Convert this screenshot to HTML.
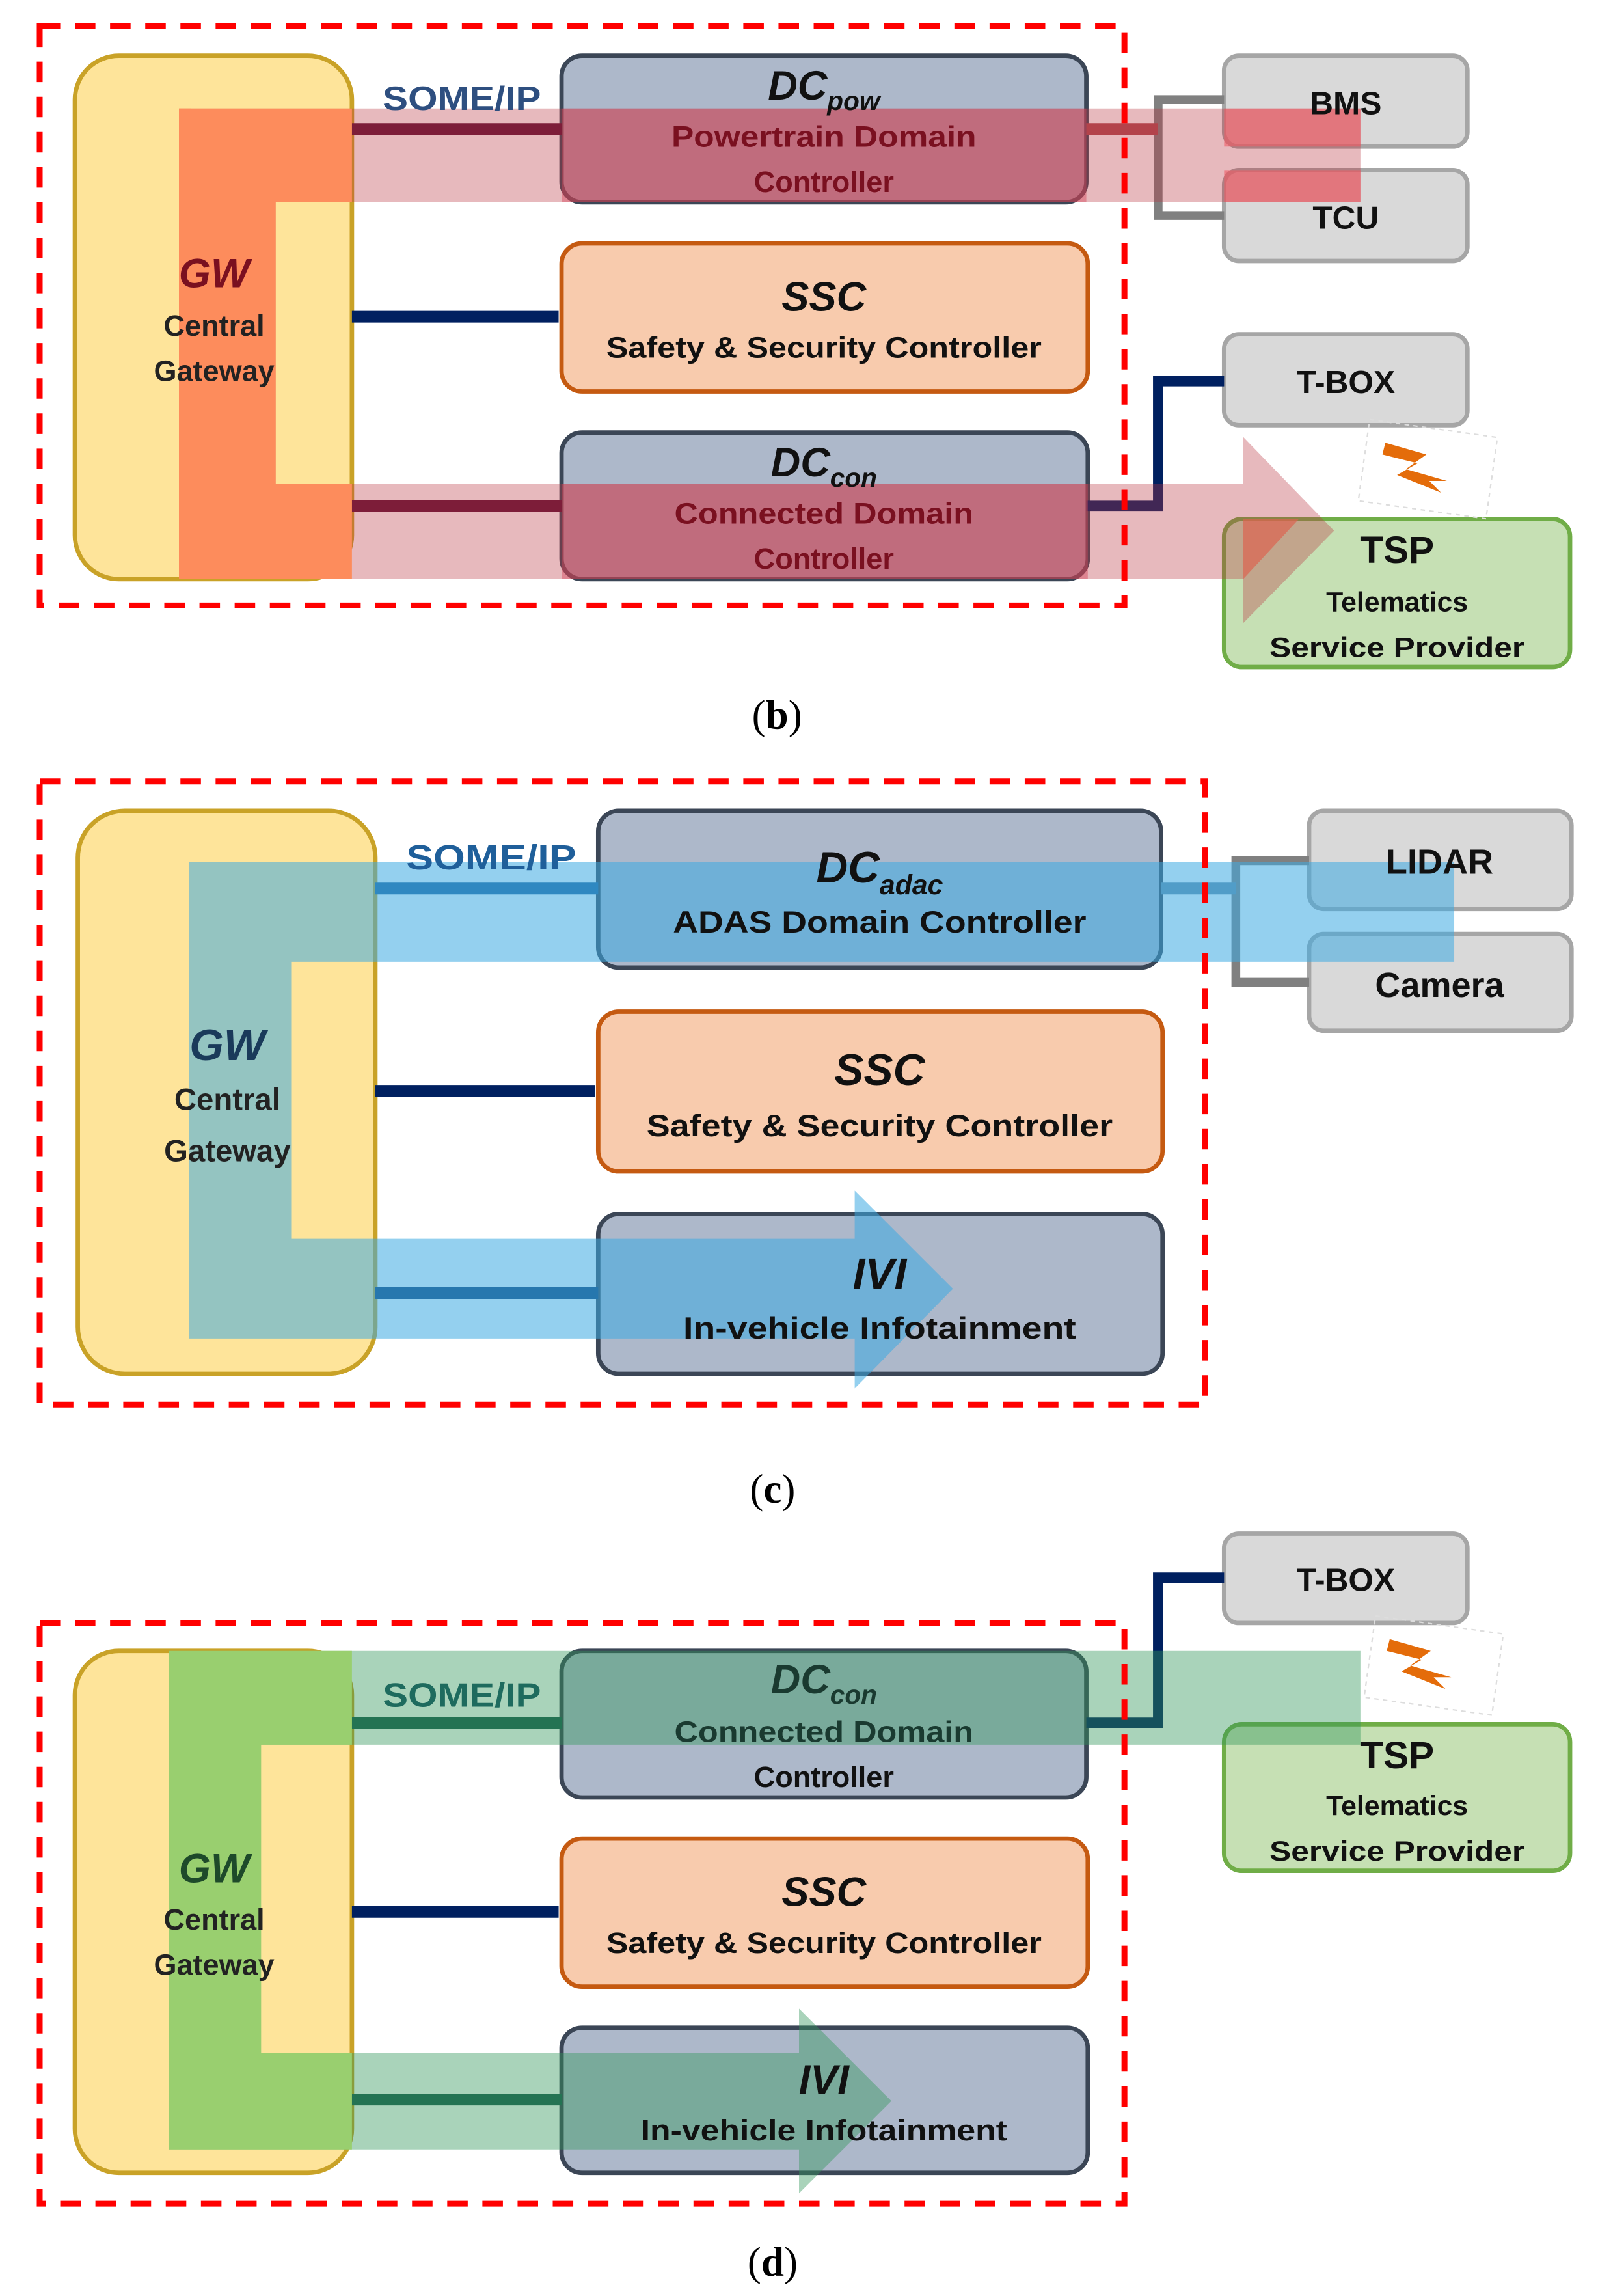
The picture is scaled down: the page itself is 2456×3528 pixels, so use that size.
<!DOCTYPE html>
<html><head><meta charset="utf-8"><style>
html,body{margin:0;padding:0;background:#fff}
svg{display:block}
text{font-family:"Liberation Sans",sans-serif;font-weight:bold;text-anchor:middle}
</style></head><body>
<svg width="2456" height="3528" viewBox="0 0 1090 1566" xmlns="http://www.w3.org/2000/svg">
<defs>
<g id="bolt"><path d="M0,0 L28,8 L14,18 L42,26 L30,26 L38,34 L8,22 L22,14 L-2,8 Z" fill="#e46c0a"/></g>
</defs>

<!-- ================= PANEL B ================= -->
<rect x="51" y="38" width="189" height="357" rx="30" fill="#fee49a" stroke="#c9a227" stroke-width="3"/>
<rect x="383" y="38" width="358" height="100" rx="14" fill="#adb8ca" stroke="#3b4656" stroke-width="3"/>
<rect x="383" y="166" width="359" height="101" rx="14" fill="#f8cbad" stroke="#c55a11" stroke-width="3"/>
<rect x="383" y="295" width="359" height="100" rx="14" fill="#adb8ca" stroke="#3b4656" stroke-width="3"/>
<rect x="835" y="38" width="166" height="62" rx="10" fill="#d9d9d9" stroke="#a6a6a6" stroke-width="3"/>
<rect x="835" y="116" width="166" height="62" rx="10" fill="#d9d9d9" stroke="#a6a6a6" stroke-width="3"/>
<rect x="835" y="228" width="166" height="62" rx="10" fill="#d9d9d9" stroke="#a6a6a6" stroke-width="3"/>
<rect x="835" y="354" width="236" height="101" rx="12" fill="#c6e0b4" stroke="#70ad47" stroke-width="3"/>
<!-- connectors -->
<line x1="240" y1="88" x2="383" y2="88" stroke="#5c1035" stroke-width="8"/>
<line x1="240" y1="216" x2="381" y2="216" stroke="#002060" stroke-width="8"/>
<line x1="240" y1="345" x2="383" y2="345" stroke="#5c1035" stroke-width="8"/>
<polyline points="835,68 790,68 790,147 835,147" fill="none" stroke="#808080" stroke-width="6"/>
<line x1="741" y1="88" x2="790" y2="88" stroke="#b04a50" stroke-width="8"/>
<polyline points="741,345 790,345 790,260 835,260" fill="none" stroke="#002060" stroke-width="7"/>
<!-- translucent flow -->
<path d="M122,74 H928 V138 H188 V330 H848 V298 L910,362 L848,425 V395 H122 Z" fill="rgba(185,55,65,0.35)"/>
<path d="M122,74 H240 V138 H188 V330 H240 V395 H122 Z" fill="#fd8c5c"/>
<path d="M122,74 H130 V395 H122 Z" fill="#fd8c5c"/>
<rect x="383" y="74" width="358" height="64" fill="rgba(210,70,90,0.45)"/>
<rect x="383" y="330" width="359" height="65" fill="rgba(210,70,90,0.45)"/>
<rect x="835" y="74" width="93" height="26" fill="rgba(240,90,100,0.6)"/>
<rect x="835" y="116" width="93" height="22" fill="rgba(240,90,100,0.6)"/>
<path d="M848,354 L886,354 L848,395 Z" fill="rgba(220,100,80,0.7)"/>
<!-- dashed border -->
<rect x="27" y="18" width="740" height="395" fill="none" stroke="#ff0000" stroke-width="4" stroke-dasharray="14,10"/>
<!-- bolt -->
<rect x="930" y="292" width="88" height="56" fill="none" stroke="#ddd" stroke-width="1" stroke-dasharray="3,3" transform="rotate(8 974 320)"/>
<use href="#bolt" x="945" y="302"/>
<!-- texts -->
<text x="315" y="75" font-size="23" fill="#2e4f80" font-weight="normal" textLength="108" lengthAdjust="spacingAndGlyphs">SOME/IP</text>
<text x="146" y="196" font-size="28" font-style="italic" fill="#7a1020">GW</text>
<text x="146" y="229" font-size="20" fill="#222">Central</text>
<text x="146" y="260" font-size="20" fill="#222">Gateway</text>
<text x="562" y="68" font-size="28" font-style="italic" fill="#111">DC<tspan font-size="18" dy="7">pow</tspan></text>
<text x="562" y="100" font-size="20" fill="#7a1020" textLength="208" lengthAdjust="spacingAndGlyphs">Powertrain Domain</text>
<text x="562" y="131" font-size="20" fill="#7a1020">Controller</text>
<text x="562" y="212" font-size="28" font-style="italic" fill="#111">SSC</text>
<text x="562" y="244" font-size="20" fill="#111" textLength="297" lengthAdjust="spacingAndGlyphs">Safety &amp; Security Controller</text>
<text x="562" y="325" font-size="28" font-style="italic" fill="#111">DC<tspan font-size="18" dy="7">con</tspan></text>
<text x="562" y="357" font-size="20" fill="#7a1020" textLength="204" lengthAdjust="spacingAndGlyphs">Connected Domain</text>
<text x="562" y="388" font-size="20" fill="#7a1020">Controller</text>
<text x="918" y="78" font-size="22" fill="#111">BMS</text>
<text x="918" y="156" font-size="22" fill="#111">TCU</text>
<text x="918" y="268" font-size="22" fill="#111">T-BOX</text>
<text x="953" y="384" font-size="26" fill="#111">TSP</text>
<text x="953" y="417" font-size="19" fill="#111">Telematics</text>
<text x="953" y="448" font-size="19" fill="#111" textLength="174" lengthAdjust="spacingAndGlyphs">Service Provider</text>
<text x="530" y="497" font-size="28" font-family="Liberation Serif" fill="#000" style="font-family:'Liberation Serif',serif;font-weight:normal">(<tspan font-weight="bold">b</tspan>)</text>

<!-- ================= PANEL C ================= -->
<rect x="53" y="553" width="203" height="384" rx="32" fill="#fee49a" stroke="#c9a227" stroke-width="3"/>
<rect x="408" y="553" width="384" height="107" rx="14" fill="#adb8ca" stroke="#3b4656" stroke-width="3"/>
<rect x="408" y="690" width="385" height="109" rx="14" fill="#f8cbad" stroke="#c55a11" stroke-width="3"/>
<rect x="408" y="828" width="385" height="109" rx="14" fill="#adb8ca" stroke="#3b4656" stroke-width="3"/>
<rect x="893" y="553" width="179" height="67" rx="10" fill="#d9d9d9" stroke="#a6a6a6" stroke-width="3"/>
<rect x="893" y="637" width="179" height="66" rx="10" fill="#d9d9d9" stroke="#a6a6a6" stroke-width="3"/>
<line x1="256" y1="606" x2="408" y2="606" stroke="#1f5f9a" stroke-width="8"/>
<line x1="256" y1="744" x2="406" y2="744" stroke="#002060" stroke-width="8"/>
<line x1="256" y1="882" x2="408" y2="882" stroke="#0d3a70" stroke-width="8"/>
<polyline points="893,587 843,587 843,670 893,670" fill="none" stroke="#808080" stroke-width="6"/>
<line x1="792" y1="606" x2="843" y2="606" stroke="#6a8ea8" stroke-width="8"/>
<path d="M129,588 H992 V656 H199 V845 H583 V812 L650,879 L583,947 V913 H129 Z" fill="rgba(60,170,225,0.55)"/>
<rect x="27" y="533" width="795" height="425" fill="none" stroke="#ff0000" stroke-width="4" stroke-dasharray="14,10"/>
<text x="335" y="593" font-size="24" fill="#1f5f9a" font-weight="normal" textLength="116" lengthAdjust="spacingAndGlyphs">SOME/IP</text>
<text x="155" y="723" font-size="30" font-style="italic" fill="#1a3a5a">GW</text>
<text x="155" y="757" font-size="21" fill="#222">Central</text>
<text x="155" y="792" font-size="21" fill="#222">Gateway</text>
<text x="600" y="602" font-size="30" font-style="italic" fill="#111">DC<tspan font-size="19" dy="8">adac</tspan></text>
<text x="600" y="636" font-size="21" fill="#111" textLength="282" lengthAdjust="spacingAndGlyphs">ADAS Domain Controller</text>
<text x="600" y="740" font-size="30" font-style="italic" fill="#111">SSC</text>
<text x="600" y="775" font-size="21" fill="#111" textLength="318" lengthAdjust="spacingAndGlyphs">Safety &amp; Security Controller</text>
<text x="600" y="879" font-size="30" font-style="italic" fill="#111">IVI</text>
<text x="600" y="913" font-size="21" fill="#111" textLength="268" lengthAdjust="spacingAndGlyphs">In-vehicle Infotainment</text>
<text x="982" y="596" font-size="24" fill="#111">LIDAR</text>
<text x="982" y="680" font-size="24" fill="#111">Camera</text>
<text x="527" y="1025" font-size="28" style="font-family:'Liberation Serif',serif;font-weight:normal">(<tspan font-weight="bold">c</tspan>)</text>

<!-- ================= PANEL D ================= -->
<rect x="51" y="1126" width="189" height="356" rx="30" fill="#fee49a" stroke="#c9a227" stroke-width="3"/>
<rect x="383" y="1126" width="358" height="100" rx="14" fill="#adb8ca" stroke="#3b4656" stroke-width="3"/>
<rect x="383" y="1254" width="359" height="101" rx="14" fill="#f8cbad" stroke="#c55a11" stroke-width="3"/>
<rect x="383" y="1383" width="359" height="99" rx="14" fill="#adb8ca" stroke="#3b4656" stroke-width="3"/>
<rect x="835" y="1046" width="166" height="61" rx="10" fill="#d9d9d9" stroke="#a6a6a6" stroke-width="3"/>
<rect x="835" y="1176" width="236" height="100" rx="12" fill="#c6e0b4" stroke="#70ad47" stroke-width="3"/>
<line x1="240" y1="1175" x2="383" y2="1175" stroke="#1b5b4f" stroke-width="8"/>
<line x1="240" y1="1304" x2="381" y2="1304" stroke="#002060" stroke-width="8"/>
<line x1="240" y1="1432" x2="383" y2="1432" stroke="#1b5b4f" stroke-width="8"/>
<polyline points="741,1175 790,1175 790,1076 835,1076" fill="none" stroke="#002060" stroke-width="7"/>
<path d="M115,1126 H928 V1190 H178 V1400 H545 V1370 L608,1433 L545,1496 V1466 H115 Z" fill="rgba(50,150,90,0.42)"/>
<path d="M115,1126 H240 V1190 H178 V1400 H240 V1466 H115 Z" fill="#99cf6f"/>
<rect x="27" y="1107" width="740" height="396" fill="none" stroke="#ff0000" stroke-width="4" stroke-dasharray="14,10"/>
<rect x="934" y="1108" width="88" height="56" fill="none" stroke="#ddd" stroke-width="1" stroke-dasharray="3,3" transform="rotate(8 978 1136)"/>
<use href="#bolt" x="948" y="1118"/>
<text x="315" y="1164" font-size="23" fill="#1e6b5e" font-weight="normal" textLength="108" lengthAdjust="spacingAndGlyphs">SOME/IP</text>
<text x="146" y="1284" font-size="28" font-style="italic" fill="#1e4a2a">GW</text>
<text x="146" y="1316" font-size="20" fill="#222">Central</text>
<text x="146" y="1347" font-size="20" fill="#222">Gateway</text>
<text x="562" y="1155" font-size="28" font-style="italic" fill="#1a3a30">DC<tspan font-size="18" dy="7">con</tspan></text>
<text x="562" y="1188" font-size="20" fill="#1a3a30" textLength="204" lengthAdjust="spacingAndGlyphs">Connected Domain</text>
<text x="562" y="1219" font-size="20" fill="#111">Controller</text>
<text x="562" y="1300" font-size="28" font-style="italic" fill="#111">SSC</text>
<text x="562" y="1332" font-size="20" fill="#111" textLength="297" lengthAdjust="spacingAndGlyphs">Safety &amp; Security Controller</text>
<text x="562" y="1428" font-size="28" font-style="italic" fill="#111">IVI</text>
<text x="562" y="1460" font-size="20" fill="#111" textLength="250" lengthAdjust="spacingAndGlyphs">In-vehicle Infotainment</text>
<text x="918" y="1085" font-size="22" fill="#111">T-BOX</text>
<text x="953" y="1206" font-size="26" fill="#111">TSP</text>
<text x="953" y="1238" font-size="19" fill="#111">Telematics</text>
<text x="953" y="1269" font-size="19" fill="#111" textLength="174" lengthAdjust="spacingAndGlyphs">Service Provider</text>
<text x="527" y="1552" font-size="28" style="font-family:'Liberation Serif',serif;font-weight:normal">(<tspan font-weight="bold">d</tspan>)</text>
</svg>
</body></html>
